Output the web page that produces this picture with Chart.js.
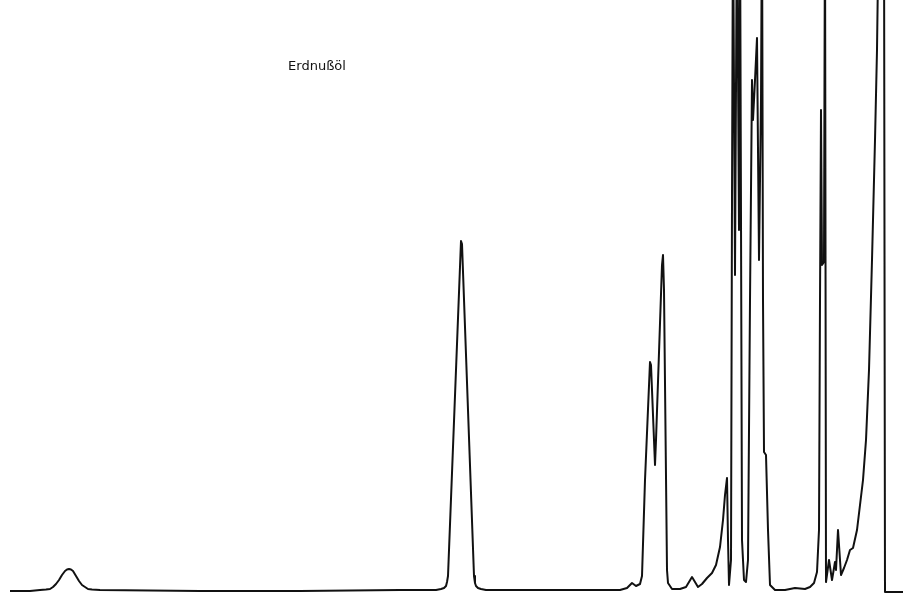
<!DOCTYPE html>
<html>
<head>
<meta charset="utf-8">
<script src="https://cdn.jsdelivr.net/npm/chart.js@4"></script>
<style>
html,body{margin:0;padding:0;background:#fff;}
#wrap{width:903px;height:596px;position:relative;}
</style>
</head>
<body>
<div id="wrap"><canvas id="c"></canvas></div>
<script>
// Retention position (arbitrary units, left to right)
const retention = [10,30,40,46,50,53,56,59,62,65,67,69,71,73,76,79,82,85,88,92,100,200,300,400,436,441,444,446,447,448,461,462,474,475,476,478,481,486,560,620,627,632,636,640,642,645,650,651,654,655,656,662,663,664,667,668,672,680,686,692,695,698,702,707,712,716,720,723,725,727,728,729,731,732,733,735,737,739,740,742,744,746,748,750,752,753,755,757,758,759,761,762,763,764,766,768,770,775,785,795,805,810,814,817,819,820,821,822,824,825,826,829,832,835,836,838,841,844,847,850,853,857,860,863,866,869,872,875,877,879,884,885,890,903];
// Detector signal (baseline = 0; peaks above 590 run off scale)
const signal = [-1,-1,0,0.5,1,3,6,10,15,19,20.5,21,20.5,19,14,9,5,3,1,0.5,0,-1,-1,0,0,1,2,4,8,14,349,346,14,7,4,2,1,0,0,0,2,7,4,6,14,110,228,225,150,125,150,325,335,300,20,7,1,1,3,13,8,3,6,12,17,25,43,70,95,112,50,5,30,390,690,315,690,360,690,50,10,8,30,290,510,470,510,552,440,330,490,690,290,138,135,60,5,0,0,2,1,3,7,18,60,290,480,325,328,690,8,30,10,28,20,60,15,22,30,40,42,60,85,110,150,220,330,450,540,690,690,-2,-2,-2];
const sampleLabel = "Erdnußöl";
const labelPos = {x: 317, y: 523};

const points = retention.map((x,i)=>({x:x, y:signal[i]}));

const labelPlugin = {
  id:'sampleLabel',
  afterDatasetsDraw(chart){
    const {ctx, scales} = chart;
    ctx.save();
    ctx.fillStyle = '#111';
    ctx.font = '13px "DejaVu Sans", sans-serif';
    ctx.textAlign = 'center';
    ctx.textBaseline = 'middle';
    ctx.fillText(sampleLabel, scales.x.getPixelForValue(labelPos.x), scales.y.getPixelForValue(labelPos.y));
    ctx.restore();
  }
};

new Chart(document.getElementById('c'), {
  type:'line',
  data:{datasets:[{data:points, borderColor:'#111', borderWidth:2, pointRadius:0, tension:0, fill:false, borderJoinStyle:'round'}]},
  options:{
    responsive:true, maintainAspectRatio:false, animation:false,
    layout:{padding:0},
    plugins:{legend:{display:false}, tooltip:{enabled:false}},
    scales:{
      x:{type:'linear', min:0, max:903, display:false},
      y:{type:'linear', min:-6, max:590, display:false}
    }
  },
  plugins:[labelPlugin]
});
</script>
</body>
</html>
